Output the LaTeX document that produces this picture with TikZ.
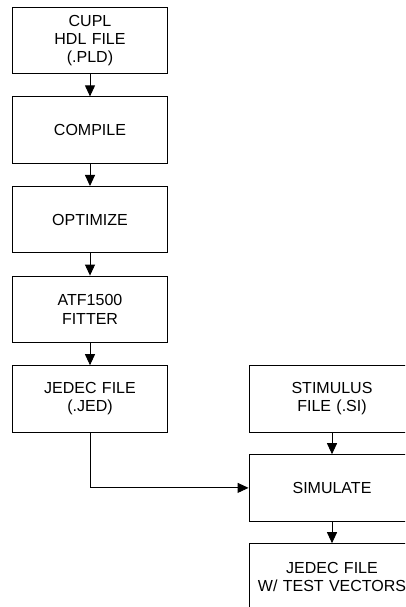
\documentclass[tikz,border=0pt]{standalone}
\usepackage{fontspec}
\setmainfont{Liberation Sans}
\usepackage{tikz}
\usetikzlibrary{shapes,arrows.meta,positioning}
\tikzstyle{process} = [rectangle, draw, line width=0.9pt, text width=140pt, text centered, minimum width=155pt, minimum height=66.5pt, inner sep=2pt, font=\fontsize{16}{18.3}\selectfont]
\tikzstyle{wide} = [text width=158pt, minimum width=166pt]
\tikzstyle{line} = [draw, line width=0.9pt, -{Triangle[length=11pt, width=10pt]}]

\begin{document}
\begin{tikzpicture}[node distance=89.6pt, auto]
    \useasboundingbox (0,0) rectangle (405pt,607pt);
    \clip (0,0) rectangle (405pt,607pt);
    \node [process] (cupl) at (90pt,566.5pt) {CUPL\\HDL FILE\\(.PLD)};
    \node [process, below of=cupl] (compile) {COMPILE};
    \node [process, below of=compile] (optimize) {OPTIMIZE};
    \node [process, below of=optimize] (fitter) {ATF1500\\FITTER};
    \node [process, below of=fitter] (jedec) {JEDEC FILE\\(.JED)};

    \node [process, wide, right of=jedec, node distance=242pt] (stimulus) {STIMULUS\\FILE (.SI)};
    \node [process, wide, below of=stimulus, node distance=89pt] (simulate) {SIMULATE};
    \node [process, wide, below of=simulate, node distance=89pt] (vectors) {JEDEC FILE\\W/ TEST VECTORS};

    \path [line] (cupl) -- (compile);
    \path [line] (compile) -- (optimize);
    \path [line] (optimize) -- (fitter);
    \path [line] (fitter) -- (jedec);
    \path [line] (jedec) |- (simulate);
    \path [line] (stimulus) -- (simulate);
    \path [line] (simulate) -- (vectors);
\end{tikzpicture}
\end{document}
